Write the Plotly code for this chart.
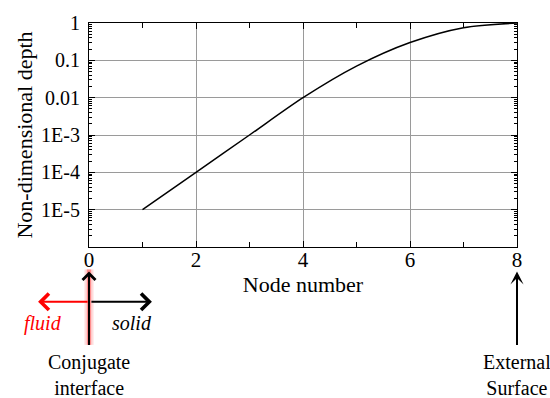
import plotly.graph_objects as go

# Node index through the solid and non-dimensional depth at each node
nodes = [1, 2, 3, 4, 5, 6, 7, 8]
depth = [1e-5, 1e-4, 1e-3, 1e-2, 0.07, 0.3, 0.75, 1.0]

x_ticks = [0, 2, 4, 6, 8]
y_ticks = [1e-5, 1e-4, 1e-3, 1e-2, 0.1, 1]
y_tick_text = ["1E-5", "1E-4", "1E-3", "0.01", "0.1", "1"]

FONT = "Liberation Serif, Times New Roman, serif"
GRID = "#9a9a9a"

fig = go.Figure()
fig.add_trace(go.Scatter(
    x=nodes, y=depth, mode="lines",
    line=dict(color="black", width=1.5, shape="spline", smoothing=0.8),
    showlegend=False, hoverinfo="skip",
))

fig.update_layout(
    width=550, height=398,
    margin=dict(l=89, r=33, t=18, b=151),
    paper_bgcolor="white", plot_bgcolor="white",
    font=dict(family=FONT, size=20, color="black"),
)

fig.update_xaxes(
    range=[0, 8], tickvals=x_ticks, ticktext=[str(v) for v in x_ticks],
    showgrid=True, gridcolor=GRID, gridwidth=1, zeroline=False,
    showline=True, linecolor="black", linewidth=1, mirror="allticks",
    ticks="inside", ticklen=6, tickcolor="black", ticklabelstandoff=-6,
    tickfont=dict(size=21),
    minor=dict(ticks="inside", ticklen=5, dtick=1, tickcolor="black", showgrid=False),
    title=dict(text="Node number", font=dict(size=22), standoff=0),
)

fig.update_yaxes(
    type="log", range=[-6, 0], tickvals=y_ticks, ticktext=y_tick_text,
    showgrid=True, gridcolor=GRID, gridwidth=1, zeroline=False,
    showline=True, linecolor="black", linewidth=1, mirror="allticks",
    ticks="inside", ticklen=6, tickcolor="black", ticklabelstandoff=4,
    minor=dict(ticks="inside", ticklen=3, dtick="D1", tickcolor="black", showgrid=False),
    title=dict(text="Non-dimensional depth", font=dict(size=22), standoff=2),
)

# Soft red glow along the conjugate interface marker, with the black stem on top
for w, a in [(10, 0.07), (7, 0.14), (4, 0.3)]:
    fig.add_shape(type="line", xref="paper", yref="paper",
                  x0=0, x1=0, y0=-0.100, y1=-0.437,
                  line=dict(color=f"rgba(255,0,0,{a})", width=w), layer="below")
fig.add_shape(type="line", xref="paper", yref="paper",
              x0=0, x1=0, y0=-0.12, y1=-0.437,
              line=dict(color="black", width=2), layer="above")

# Interface and surface arrows
fig.add_annotation(xref="paper", yref="paper", x=0, y=-0.109, ax=0, ay=75,
                   showarrow=True, arrowhead=4, arrowsize=1.25, arrowwidth=2,
                   arrowcolor="black", text="", standoff=0)
fig.add_annotation(xref="paper", yref="paper", x=1, y=-0.109, ax=0, ay=75,
                   showarrow=True, arrowhead=3, arrowsize=1.1, arrowwidth=2,
                   arrowcolor="black", text="", standoff=0)
fig.add_annotation(xref="paper", yref="paper", x=-0.119, y=-0.2445, ax=51, ay=0,
                   showarrow=True, arrowhead=4, arrowsize=1.6, arrowwidth=2,
                   arrowcolor="red", text="", standoff=0)
fig.add_annotation(xref="paper", yref="paper", x=0.147, y=-0.2445, ax=-62, ay=0,
                   showarrow=True, arrowhead=4, arrowsize=1.6, arrowwidth=2,
                   arrowcolor="black", text="", standoff=0)

labels = [
    (-0.107, -0.341, "<i>fluid</i>", "red"),
    (0.10, -0.341, "<i>solid</i>", "black"),
    (0, -0.572, "Conjugate<br>interface", "black"),
    (1, -0.572, "External<br>Surface", "black"),
]
for lx, ly, txt, col in labels:
    fig.add_annotation(xref="paper", yref="paper", x=lx, y=ly, text=txt,
                       showarrow=False, xanchor="center", yanchor="middle",
                       font=dict(color=col, size=20))

fig.write_html("out.html")
